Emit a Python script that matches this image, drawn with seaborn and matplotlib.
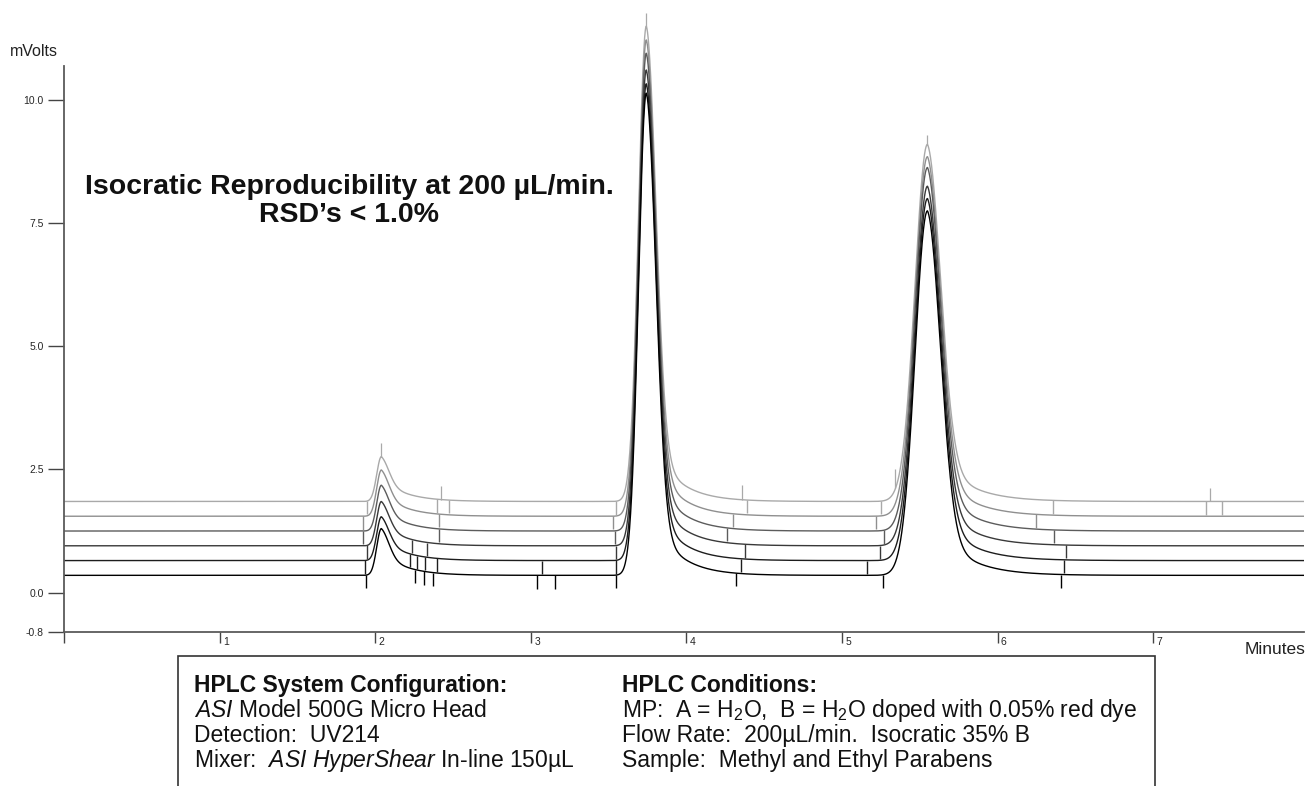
import numpy as np
import pandas as pd
import matplotlib
matplotlib.use("Agg")
import matplotlib.pyplot as plt
import matplotlib.transforms as mtrans
from matplotlib.patches import Rectangle
import seaborn as sns

# ---------------- data ----------------
runs = ["Run 1", "Run 2", "Run 3", "Run 4", "Run 5", "Run 6"]          # top (light) -> bottom (black)
baselines = [1.85, 1.55, 1.25, 0.95, 0.65, 0.35]
run_colors = ["#a9a9a9", "#8f8f8f", "#5c5c5c", "#393939", "#1d1d1d", "#000000"]

peak_times = [2.04, 3.743, 5.55]
peak1_heights = [0.91, 0.94, 0.93, 0.90, 0.89, 0.95]
peak2_heights = [9.65, 9.67, 9.70, 9.66, 9.68, 9.79]
peak3_heights = [7.25, 7.30, 7.38, 7.30, 7.35, 7.40]
peak_sigma_left = [0.030, 0.050, 0.080]
peak_sigma_right = [0.050, 0.062, 0.085]
peak_tail_frac = [0.50, 0.15, 0.17]
peak_tail_tau = [0.155, 0.165, 0.20]

marker_times = {
    "Run 1": [1.95, 2.40, 2.476, 3.545, 4.39, 5.254, 6.356, 7.342, 7.445],
    "Run 2": [1.92, 2.41, 3.53, 4.30, 5.22, 6.249],
    "Run 3": [1.92, 2.41, 3.54, 4.26, 5.27, 6.36],
    "Run 4": [1.95, 2.236, 2.336, 3.545, 4.38, 5.247, 6.44],
    "Run 5": [1.936, 2.225, 2.268, 2.32, 2.40, 3.07, 3.545, 4.35, 5.162, 6.425],
    "Run 6": [1.94, 2.257, 2.313, 2.37, 3.04, 3.158, 3.55, 4.32, 5.263, 6.41],
}
spike_times = [2.04, 2.42, 3.743, 4.36, 5.344, 5.55, 7.365]   # on Run 1
spike_sizes = [0.27, 0.27, 0.27, 0.30, 0.40, 0.20, 0.27]
marker_depth = 0.27

y_ticks = [-0.8, 0.0, 2.5, 5.0, 7.5, 10.0]
y_tick_labels = ["-0.8", "0.0", "2.5", "5.0", "7.5", "10.0"]
x_ticks = [0, 1, 2, 3, 4, 5, 6, 7]
x_tick_labels = ["", "1", "2", "3", "4", "5", "6", "7"]

# ---------------- build traces ----------------
t = np.linspace(0.0, 7.97, 6000)


def peak(tt, mu, h, sl, sr, k, tau):
    d = tt - mu
    left = np.exp(-0.5 * (d / sl) ** 2)
    right = (1 - k) * np.exp(-0.5 * (d / sr) ** 2) + k * np.exp(-np.clip(d, 0, None) / tau)
    return h * np.where(d < 0, left, right)


heights = [peak1_heights, peak2_heights, peak3_heights]
frames = []
curves = {}
for i, r in enumerate(runs):
    y = np.full_like(t, baselines[i])
    for p in range(3):
        y = y + peak(t, peak_times[p], heights[p][i], peak_sigma_left[p],
                     peak_sigma_right[p], peak_tail_frac[p], peak_tail_tau[p])
    curves[r] = y
    frames.append(pd.DataFrame({"t": t, "mV": y, "run": r}))
df = pd.concat(frames, ignore_index=True)

# ---------------- figure ----------------
sns.set_theme(style="white")
plt.rcParams["font.family"] = ["Liberation Sans", "DejaVu Sans"]
plt.rcParams["mathtext.fontset"] = "custom"
plt.rcParams["mathtext.rm"] = "Liberation Sans"
plt.rcParams["mathtext.it"] = "Liberation Sans:italic"
plt.rcParams["mathtext.bf"] = "Liberation Sans:bold"

W, H = 1309, 786
fig = plt.figure(figsize=(W / 100, H / 100), dpi=100)
ax = fig.add_axes([64 / W, (H - 632) / H, (1304 - 64) / W, 632 / H])

sns.lineplot(data=df, x="t", y="mV", hue="run", hue_order=runs,
             palette=dict(zip(runs, run_colors)), estimator=None, sort=False,
             linewidth=1.0, legend=False, ax=ax)

# integration markers
for i, r in enumerate(runs):
    mt = np.array(marker_times[r])
    yv = np.interp(mt, t, curves[r])
    ax.vlines(mt, yv - marker_depth, yv, colors=run_colors[i], linewidth=1.0)
# spikes on the top run
st = np.array(spike_times)
yv = np.interp(st, t, curves["Run 1"])
ax.vlines(st, yv, yv + np.array(spike_sizes), colors=run_colors[0], linewidth=0.9)

ax.set_xlim(0, 7.97)
ax.set_ylim(-0.8, 12.03)
ax.set_xlabel("")
ax.set_ylabel("")
for s in ["top", "right"]:
    ax.spines[s].set_visible(False)
for s in ["left", "bottom"]:
    ax.spines[s].set_color("#5a5a5a")
    ax.spines[s].set_linewidth(1.3)
ax.spines["left"].set_bounds(-0.8, 10.7)

ax.set_yticks(y_ticks)
ax.set_yticklabels(y_tick_labels)
ax.set_xticks(x_ticks)
ax.set_xticklabels(x_tick_labels)
ax.tick_params(axis="y", direction="out", length=11.5, width=1.0, color="#444444",
               labelsize=7.5, pad=3, left=True)
ax.tick_params(axis="x", direction="out", length=8, width=1.0, color="#444444",
               labelsize=7.5, pad=-4.5, bottom=True)
off = mtrans.ScaledTranslation(2.5 / 72, 0, fig.dpi_scale_trans)
for lbl in ax.get_xticklabels():
    lbl.set_horizontalalignment("left")
    lbl.set_transform(lbl.get_transform() + off)
ax.grid(False)
ax.set_facecolor("white")


def fx(px):
    return px / W


def fy(py):
    return 1 - py / H


fig.text(fx(10), fy(52), "mVolts", fontsize=11.5, va="center", ha="left", color="#222")
fig.text(fx(1305), fy(650), "Minutes", fontsize=12.5, va="center", ha="right", color="#222")

fig.text(fx(349), fy(187), "Isocratic Reproducibility at 200 µL/min.", fontsize=20.5,
         fontweight="bold", ha="center", va="center", color="#111")
fig.text(fx(349), fy(215), "RSD’s < 1.0%", fontsize=20.5,
         fontweight="bold", ha="center", va="center", color="#111")

fig.patches.append(Rectangle((fx(178), fy(800)), fx(1155) - fx(178), (800 - 656) / H,
                             transform=fig.transFigure, fill=False, edgecolor="#333333",
                             linewidth=1.2))

bsize = 16.5
left_lines = [
    r"$\mathit{ASI}$ Model 500G Micro Head",
    "Detection:  UV214",
    r"Mixer:  $\mathit{ASI\ HyperShear}$ In-line 150µL",
]
right_lines = [
    r"MP:  A = H$_2$O,  B = H$_2$O doped with 0.05% red dye",
    "Flow Rate:  200µL/min.  Isocratic 35% B",
    "Sample:  Methyl and Ethyl Parabens",
]
base_y = [692, 717, 742, 767]
x_left, x_right = 194, 622
fig.text(fx(x_left), fy(base_y[0]), "HPLC System Configuration:", fontsize=bsize,
         fontweight="bold", va="baseline", color="#111")
fig.text(fx(x_right), fy(base_y[0]), "HPLC Conditions:", fontsize=bsize,
         fontweight="bold", va="baseline", color="#111")
for j, s in enumerate(left_lines):
    fig.text(fx(x_left), fy(base_y[j + 1]), s, fontsize=bsize, va="baseline", color="#111")
for j, s in enumerate(right_lines):
    fig.text(fx(x_right), fy(base_y[j + 1]), s, fontsize=bsize, va="baseline", color="#111")

fig.savefig("out.png", dpi=100, facecolor="white")
